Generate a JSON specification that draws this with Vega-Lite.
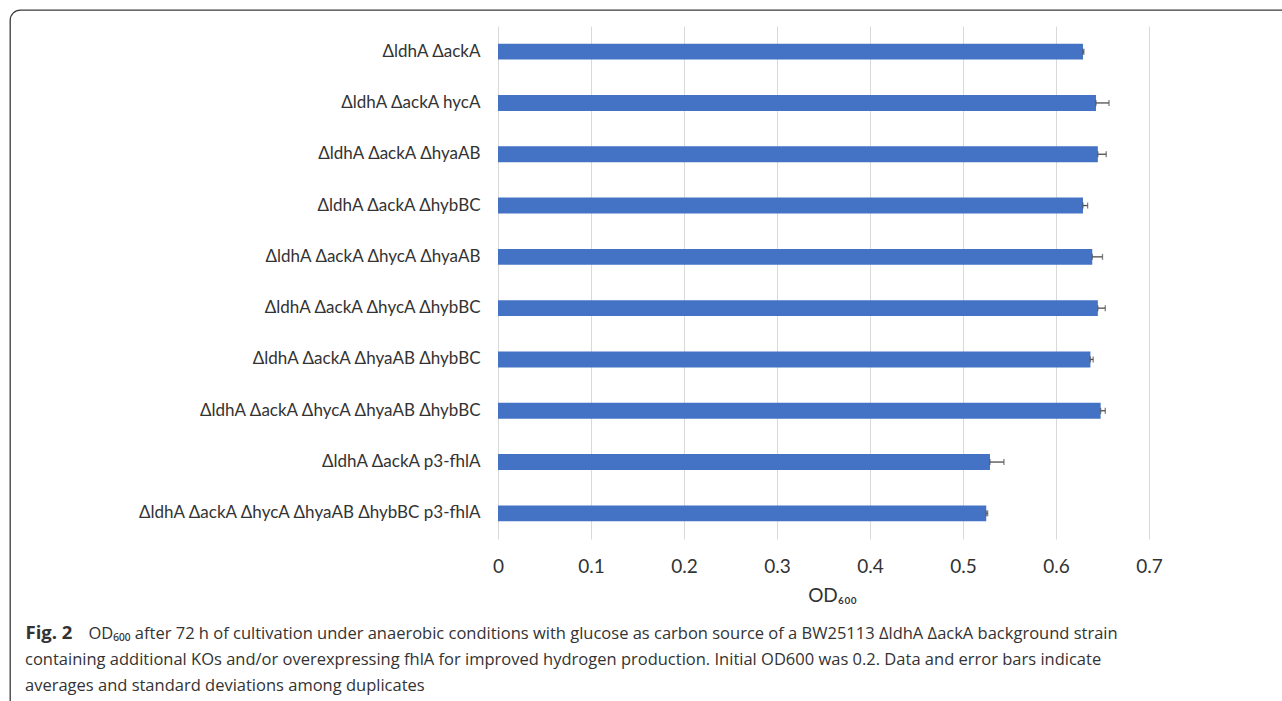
{
  "$schema": "https://vega.github.io/schema/vega-lite/v6.json",
  "width": 1290,
  "height": 700,
  "autosize": {"type": "none"},
  "padding": {"left": 10, "top": 10, "right": -18, "bottom": -9},
  "background": "white",
  "title": {
    "text": [
      "containing additional KOs and/or overexpressing fhlA for improved hydrogen production. Initial OD600 was 0.2. Data and error bars indicate",
      "averages and standard deviations among duplicates"
    ],
    "orient": "bottom",
    "anchor": "start",
    "frame": "group",
    "offset": -58,
    "dx": 15,
    "font": "Open Sans",
    "fontSize": 16.5,
    "fontWeight": "normal",
    "color": "#333333",
    "lineHeight": 26
  },
  "data": {
    "values": [
      {"strain": "ΔldhA ΔackA", "od": 0.629, "upper": 0.630},
      {"strain": "ΔldhA ΔackA hycA", "od": 0.643, "upper": 0.657},
      {"strain": "ΔldhA ΔackA ΔhyaAB", "od": 0.645, "upper": 0.654},
      {"strain": "ΔldhA ΔackA ΔhybBC", "od": 0.629, "upper": 0.634},
      {"strain": "ΔldhA ΔackA ΔhycA ΔhyaAB", "od": 0.639, "upper": 0.650},
      {"strain": "ΔldhA ΔackA ΔhycA ΔhybBC", "od": 0.645, "upper": 0.653},
      {"strain": "ΔldhA ΔackA ΔhyaAB ΔhybBC", "od": 0.637, "upper": 0.640},
      {"strain": "ΔldhA ΔackA ΔhycA ΔhyaAB ΔhybBC", "od": 0.648, "upper": 0.653},
      {"strain": "ΔldhA ΔackA p3-fhlA", "od": 0.529, "upper": 0.544},
      {"strain": "ΔldhA ΔackA ΔhycA ΔhyaAB ΔhybBC p3-fhlA", "od": 0.525, "upper": 0.5265}
    ]
  },
  "encoding": {
    "y": {
      "field": "strain",
      "type": "nominal",
      "sort": null,
      "scale": {"range": [16, 529], "paddingInner": 0.69, "paddingOuter": 0.345},
      "axis": {
        "orient": "left",
        "offset": -488,
        "domain": false,
        "ticks": false,
        "grid": false,
        "labelFont": "Lato",
        "labelFontSize": 17,
        "labelColor": "#333333",
        "labelPadding": 18,
        "labelLimit": 0,
        "title": "OD₆₀₀ after 72 h of cultivation under anaerobic conditions with glucose as carbon source of a BW25113 ΔldhA ΔackA background strain",
        "titleAngle": 0,
        "titleAlign": "left",
        "titleBaseline": "alphabetic",
        "titleX": -410,
        "titleY": 628,
        "titleFont": "Open Sans",
        "titleFontSize": 16.5,
        "titleFontWeight": "normal",
        "titleColor": "#333333",
        "titleLimit": 0
      }
    }
  },
  "layer": [
    {
      "mark": {"type": "bar", "color": "#4472C4"},
      "encoding": {
        "x": {
          "field": "od",
          "type": "quantitative",
          "scale": {"domain": [0, 0.7], "range": [488, 1139], "nice": false},
          "axis": {
            "orient": "bottom",
            "offset": -171,
            "values": [0, 0.1, 0.2, 0.3, 0.4, 0.5, 0.6, 0.7],
            "format": "~g",
            "grid": false,
            "domain": false,
            "ticks": false,
            "labelFlush": false,
            "labelFont": "Lato",
            "labelFontSize": 19,
            "labelColor": "#333333",
            "labelPadding": 18,
            "title": "OD₆₀₀",
            "titleFont": "Lato",
            "titleFontSize": 19,
            "titleFontWeight": "normal",
            "titleColor": "#333333",
            "titlePadding": 10,
            "titleX": 822
          }
        }
      }
    },
    {
      "mark": {"type": "rule", "color": "#4d4d4d", "strokeWidth": 1.3},
      "encoding": {
        "x": {
          "field": "od",
          "type": "quantitative",
          "axis": {
            "orient": "top",
            "values": [0, 0.1, 0.2, 0.3, 0.4, 0.5, 0.6, 0.7],
            "grid": true,
            "gridColor": "#d9d9d9",
            "gridWidth": 1,
            "labels": false,
            "domain": false,
            "ticks": false,
            "title": "Fig. 2",
            "titleAngle": 0,
            "titleAlign": "left",
            "titleBaseline": "alphabetic",
            "titleX": 15,
            "titleY": 628,
            "titleFont": "Open Sans",
            "titleFontSize": 18.5,
            "titleFontWeight": "bold",
            "titleColor": "#333333"
          }
        },
        "x2": {"field": "upper"}
      }
    },
    {
      "mark": {"type": "tick", "orient": "vertical", "size": 6, "thickness": 1.3, "color": "#4d4d4d"},
      "encoding": {"x": {"field": "upper", "type": "quantitative", "axis": null}}
    },
    {
      "mark": {"type": "tick", "orient": "vertical", "size": 6, "thickness": 1.3, "color": "#4d4d4d"},
      "encoding": {"x": {"field": "od", "type": "quantitative", "axis": null}}
    }
  ],
  "resolve": {"axis": {"x": "independent"}},
  "config": {
    "view": {"stroke": "#3a3a3a", "strokeWidth": 1.3, "cornerRadius": 10}
  }
}
